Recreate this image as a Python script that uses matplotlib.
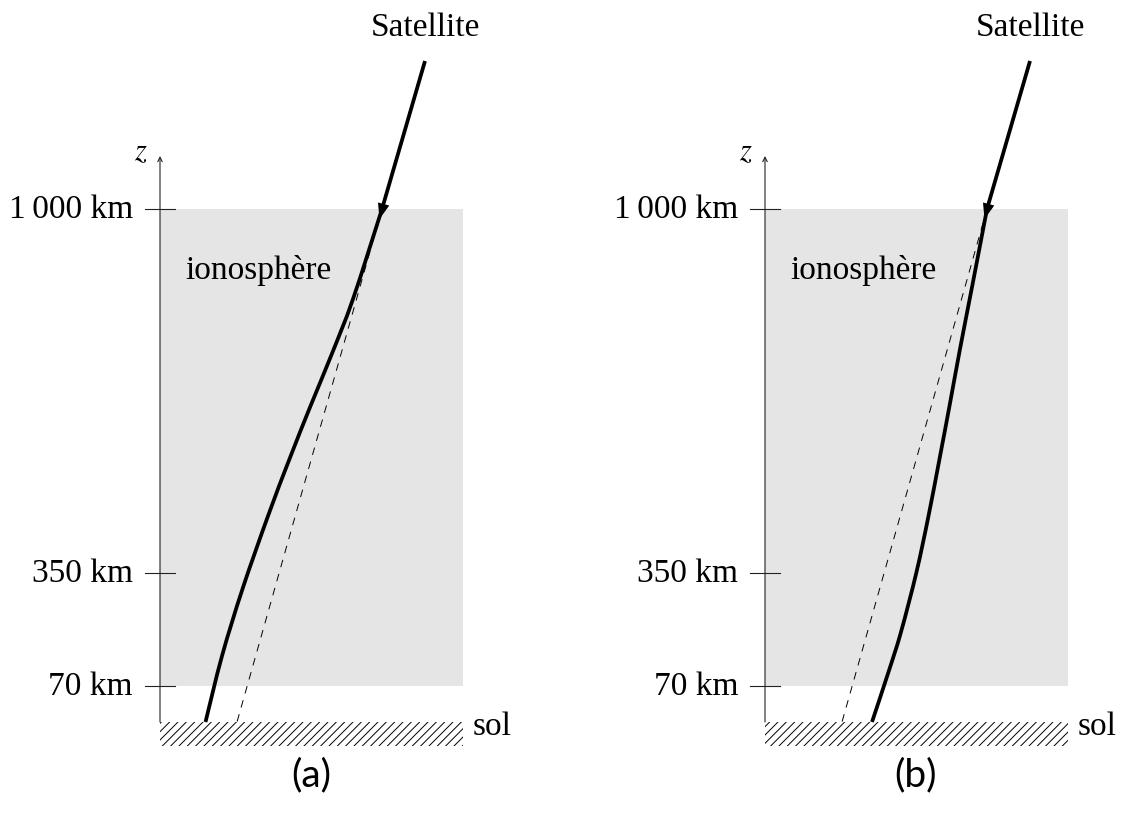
import matplotlib
matplotlib.use("Agg")
import matplotlib.pyplot as plt
from matplotlib.patches import Rectangle, PathPatch
from matplotlib.path import Path

plt.rcParams["font.family"] = ["Liberation Serif", "DejaVu Serif"]
plt.rcParams["mathtext.fontset"] = "stix"
plt.rcParams["hatch.linewidth"] = 0.7
plt.rcParams["lines.scale_dashes"] = False

# schematic units (1 unit ~ 1 px), origin at the foot of the z axis
tick_h = [513, 149, 36]
tick_labels = ["1\u2009000 km", "350 km", "70 km"]
iono_bottom, iono_top, iono_width = 36, 513, 303

# straight ray coming from the satellite, down to the top of the ionosphere
sat_x = [265, 222]
sat_h = [661, 513]

# straight-line (unrefracted) path, dashed
straight_x = [222, 77]
straight_h = [513, 0]

# refracted paths
ray_a_x = [222, 193, 171, 150.5, 129.5, 108, 82.5, 62, 45.5]
ray_a_h = [513, 423, 366, 316, 263, 206, 133, 66, 0]
ray_b_x = [222, 208, 195, 184.5, 174.5, 163.5, 151.5, 136, 123.5, 107]
ray_b_h = [513, 440, 373, 316, 263, 206, 150, 90, 50, 0]

panels = [("(a)", ray_a_x, ray_a_h, 160), ("(b)", ray_b_x, ray_b_h, 765)]


def smooth_path(xs, ys):
    # Catmull-Rom through the points, drawn as cubic Bezier segments
    pts = list(zip(xs, ys))
    verts = [pts[0]]
    codes = [Path.MOVETO]
    for k in range(len(pts) - 1):
        p0 = pts[k - 1] if k > 0 else pts[k]
        p1, p2 = pts[k], pts[k + 1]
        p3 = pts[k + 2] if k + 2 < len(pts) else pts[k + 1]
        c1 = (p1[0] + (p2[0] - p0[0]) / 6, p1[1] + (p2[1] - p0[1]) / 6)
        c2 = (p2[0] - (p3[0] - p1[0]) / 6, p2[1] - (p3[1] - p1[1]) / 6)
        verts += [c1, c2, p2]
        codes += [Path.CURVE4] * 3
    return Path(verts, codes)


fig = plt.figure(figsize=(11.24, 8.2), dpi=100)
W, H = 1124, 820
ground_px = 723

for i, (label, rx, rh, x0) in enumerate(panels):
    ax = fig.add_axes([i * 0.5, 0, 0.5, 1])
    left = i * W / 2
    ax.set_xlim(left - x0, left - x0 + W / 2)
    ax.set_ylim(ground_px - H, ground_px)
    ax.axis("off")

    ax.add_patch(Rectangle((0, iono_bottom), iono_width, iono_top - iono_bottom,
                           facecolor="#e5e5e5", edgecolor="none", zorder=0))
    ax.add_patch(Rectangle((0, -24), iono_width, 24, fill=False, hatch="////",
                           linewidth=0, edgecolor="black", zorder=1))

    # z axis
    ax.annotate("", xy=(0, 566), xytext=(0, 0),
                arrowprops=dict(arrowstyle="->", lw=0.8, color="#222222",
                                shrinkA=0, shrinkB=0, mutation_scale=8))
    ax.text(-19, 570, "$z$", fontsize=22, ha="center", va="center")
    for h, t in zip(tick_h, tick_labels):
        ax.plot([-15, 15], [h, h], color="#222222", lw=0.8, zorder=3)
        ax.text(-27, h, t, fontsize=24, ha="right", va="center")

    ax.plot(straight_x, straight_h, color="black", lw=0.7, dashes=(5.5, 5), zorder=2)
    ax.plot(sat_x, sat_h, color="black", lw=2.7, solid_capstyle="butt", zorder=4)
    ax.add_patch(PathPatch(smooth_path(rx, rh), fill=False, edgecolor="black",
                           lw=2.7, capstyle="butt", joinstyle="round", zorder=4))
    ax.annotate("", xy=(219.5, 503), xytext=(225, 523),
                arrowprops=dict(arrowstyle="-|>,head_length=0.8,head_width=0.3",
                                lw=0, color="black", shrinkA=0, shrinkB=0,
                                mutation_scale=14), zorder=5)

    ax.text(265, 695, "Satellite", fontsize=24, ha="center", va="center")
    ax.text(25, 452, "ionosphère", fontsize=24, ha="left", va="center")
    ax.text(313, -4, "sol", fontsize=24, ha="left", va="center")
    ax.text(151, -52, label, fontsize=28, ha="center", va="center",
            family=["Lato", "DejaVu Sans"])

fig.savefig("out.png", dpi=100)
